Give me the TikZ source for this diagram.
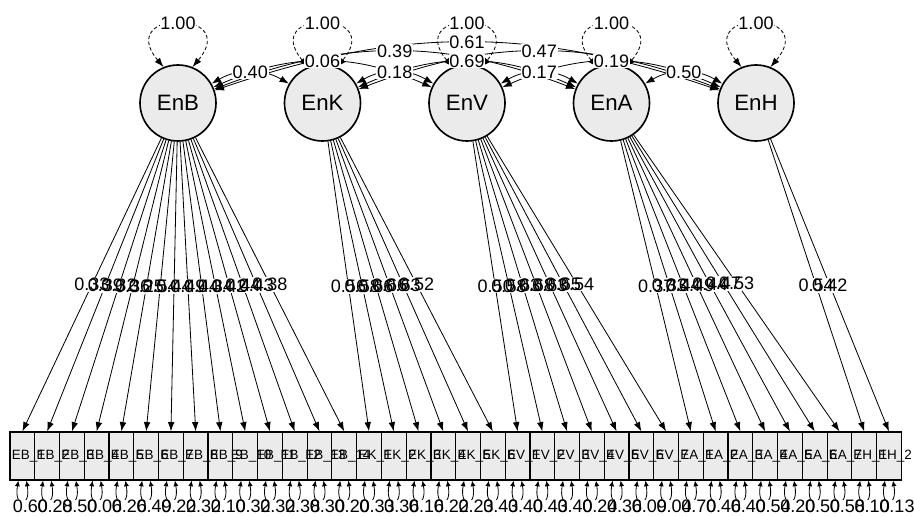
\documentclass[tikz,border=0pt]{standalone}
\usepackage{fontspec}
\setmainfont{Liberation Sans}
\usetikzlibrary{arrows.meta, calc}

\def\loadings{EnB/0/{0.33,0.39,0.32,0.36,0.25,0.54,0.44,0.49,0.44,0.34,0.42,0.44,0.43,0.38},
  EnK/14/{0.56,0.58,0.66,0.66,0.63,0.52},
  EnV/20/{0.50,0.58,0.63,0.68,0.63,0.65,0.54},
  EnA/27/{0.37,0.33,0.44,0.49,0.44,0.47,0.53},
  EnH/34/{0.54,0.42}}
\def\covs{EnB/EnK/0.40/30, EnK/EnV/0.18/30, EnV/EnA/0.17/30, EnA/EnH/0.50/30,
  EnB/EnV/0.06/24, EnK/EnA/0.69/24, EnV/EnH/0.19/24,
  EnB/EnA/0.39/21, EnK/EnH/0.47/21, EnB/EnH/0.61/19}
\def\resids{0.60,0.28,0.50,0.06,0.26,0.49,0.22,0.32,0.10,0.32,0.32,0.38,0.30,0.20,
  0.33,0.36,0.16,0.22,0.23,0.43,0.40,0.43,0.40,0.24,0.36,0.09,0.04,
  0.70,0.46,0.40,0.54,0.20,0.50,0.58,0.10,0.13}

% all estimates, once as white patches and once as text
\newcommand{\estlabels}[1]{%
  \foreach \fac in {EnB,EnK,EnV,EnA,EnH}
    \path (\fac.112) to[out=130, in=50, looseness=6.7] node[midway, #1] {1.00} (\fac.68);
  \foreach \fa/\fb/\val/\bend in \covs
    \path (\fa) to[bend left=\bend] node[midway, #1] {\val} (\fb);
  \foreach \fac/\s/\vals in \loadings
    \foreach \val [count=\jj] in \vals {
      \pgfmathtruncatemacro{\i}{\s+\jj}
      \path (\fac) -- node[midway, #1] {\val} (m\i.north);
    }
  \foreach \res [count=\i] in \resids
    \node[#1] at ($(m\i.south)+(8,26)$) {\res};
}

\begin{document}
\begin{tikzpicture}[
    x=0.3mm, y=-0.3mm,
    latent/.style={circle, draw=black, line width=1.4pt, fill=black!8, minimum size=22.8mm, inner sep=0pt, font=\fontsize{19}{19}\selectfont},
    manifest/.style={rectangle, draw=black, line width=1pt, fill=black!8, minimum width=7.43mm, minimum height=14.4mm, inner sep=0pt},
    mtext/.style={font=\fontsize{11.5}{12}\selectfont, inner sep=0pt},
    est/.style={font=\fontsize{15.4}{16}\selectfont, inner sep=0.6pt},
    estbg/.style={est, fill=white, text=white},
    load/.style={line width=0.7pt, -{Latex[length=2.8mm, width=2mm]}},
    cov/.style={line width=0.7pt, {Latex[length=2.8mm, width=2mm]}-{Latex[length=2.8mm, width=2mm]}},
    var/.style={cov, dash pattern=on 3pt off 2pt},
    resid/.style={line width=0.7pt, {Latex[length=1.7mm, width=1.5mm]}-{Latex[length=1.7mm, width=1.5mm]}}
  ]
  \useasboundingbox (0,0) rectangle (914,515);

  % factors
  \foreach \fac/\x in {EnB/178, EnK/322.5, EnV/467, EnA/611.5, EnH/756}
    \node[latent] (\fac) at (\x,103) {\fac};

  % items
  \foreach \i in {1,...,36}
    \node[manifest] (m\i) at ({10+24.76*(\i-0.5)},456) {};
  \foreach \g/\s/\nk in {EB/0/14, EK/14/6, EV/20/7, EA/27/7, EH/34/2}
    \foreach \jj in {1,...,\nk} {
      \pgfmathtruncatemacro{\i}{\s+\jj}
      \node[mtext] (t\i) at ($(m\i)+(6,0)$) {\g\_\jj};
    }

  % loadings
  \foreach \fac/\s/\vals in \loadings
    \foreach \val [count=\jj] in \vals {
      \pgfmathtruncatemacro{\i}{\s+\jj}
      \draw[load] (\fac) -- (m\i.north);
    }

  % variances and covariances
  \foreach \fac in {EnB,EnK,EnV,EnA,EnH}
    \draw[var] (\fac.112) to[out=130, in=50, looseness=6.7] (\fac.68);
  \foreach \fa/\fb/\val/\bend in \covs
    \draw[cov] (\fa) to[bend left=\bend] (\fb);

  % residuals
  \foreach \res [count=\i] in \resids
    \draw[resid] ([xshift=-1.2mm]m\i.south) to[out=-100, in=-80, looseness=9] ([xshift=1.2mm]m\i.south);

  \estlabels{estbg}
  \estlabels{est}
\end{tikzpicture}
\end{document}
